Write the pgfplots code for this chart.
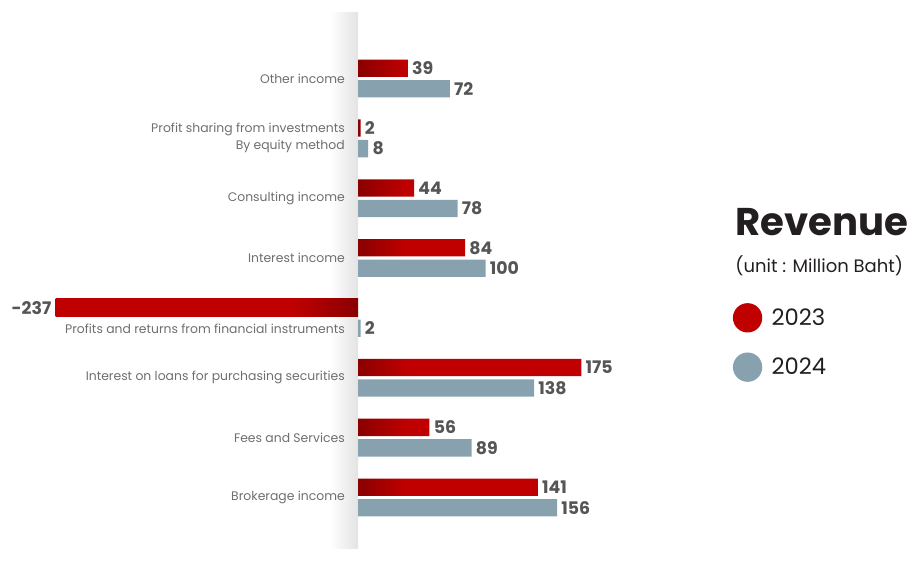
\documentclass[border=0pt]{standalone}
\usepackage{pgfplots}
\pgfplotsset{compat=1.18}
\usepackage{fontspec}
\setmainfont{Poppins}
\definecolor{rmain}{HTML}{C00000}
\definecolor{rdark}{HTML}{8A0000}
\definecolor{bgray}{HTML}{87A2AE}
\definecolor{valc}{HTML}{555555}
\definecolor{labc}{HTML}{6E6E6E}
\definecolor{titc}{HTML}{231F20}
\pgfdeclarehorizontalshading{redpos}{100bp}{color(0bp)=(rdark); color(25bp)=(rdark); color(36bp)=(rmain); color(100bp)=(rmain)}
\pgfdeclarehorizontalshading{redneg}{100bp}{color(0bp)=(rmain); color(64bp)=(rmain); color(75bp)=(rdark); color(100bp)=(rdark)}
\begin{document}
\begin{tikzpicture}
\useasboundingbox (0,0) rectangle (681.75pt,422.25pt);
\begin{axis}[at={(0,0)}, anchor=south west, scale only axis,
  width=681.75pt, height=422.25pt,
  xmin=-280.6, xmax=431.8, ymin=-1.094, ymax=8.311,
  hide axis, clip=false,
  /pgf/number format/assume math mode=true,
  bar width=13pt,
  legend style={draw=none, fill=none, at={(0.806,0.462)}, anchor=north west,
    font=\fontsize{17}{20}\selectfont\color{titc}, row sep=15pt, inner sep=0pt,
    /tikz/every even column/.append style={column sep=0pt}},
  legend cell align=left,
  legend image code/.code={\fill[#1,draw=none] (11pt,0pt) circle (11pt);},
  nodes near coords style={font=\fontsize{13}{15}\selectfont\bfseries, color=valc, inner sep=3pt},
]
% shadow at the zero line
\fill[left color=white, right color=black!11, draw=none] (axis cs:-22,-0.85) rectangle (axis cs:0,8.1);

\addplot[forget plot, xbar, bar shift=7.7pt, draw=none, shade, shading=redpos,
  point meta=x, nodes near coords, nodes near coords style={anchor=west, yshift=7.7pt}]
  coordinates {(141,0) (56,1) (175,2) (84,4) (44,5) (2,6) (39,7)};
\addplot[forget plot, xbar, bar shift=7.7pt, draw=none, shade, shading=redneg,
  point meta=x, nodes near coords, nodes near coords style={anchor=east, yshift=7.7pt}]
  coordinates {(-237,3)};
\addplot[forget plot, xbar, bar shift=-7.7pt, draw=none, fill=bgray,
  point meta=x, nodes near coords, nodes near coords style={anchor=west, yshift=-7.7pt}]
  coordinates {(156,0) (89,1) (138,2) (2,3) (100,4) (78,5) (8,6) (72,7)};

\addlegendimage{fill=rmain}
\addlegendentry{\hspace{5pt}2023}
\addlegendimage{fill=bgray}
\addlegendentry{\hspace{5pt}2024}

\begin{scope}[every node/.style={anchor=east, font=\fontsize{9.3}{12.75}\selectfont, text=labc, align=right, inner sep=0pt}]
\node at (axis cs:-10.2,7) {Other income};
\node at (axis cs:-10.2,6) {Profit sharing from investments\\By equity method};
\node at (axis cs:-10.2,5) {Consulting income};
\node at (axis cs:-10.2,4) {Interest income};
\node at (axis cs:-10.2,2.815) {Profits and returns from financial instruments};
\node at (axis cs:-10.2,2) {Interest on loans for purchasing securities};
\node at (axis cs:-10.2,1) {Fees and Services};
\node at (axis cs:-10.2,0) {Brokerage income};
\end{scope}

\node[anchor=west, font=\fontsize{29}{34}\selectfont\bfseries, text=titc, inner sep=0pt] at (axis cs:295.5,4.60) {Revenue};
\node[anchor=west, font=\fontsize{13.5}{16}\selectfont, text=titc, inner sep=0pt] at (axis cs:295.5,3.867) {(unit : Million Baht)};
\end{axis}
\end{tikzpicture}
\end{document}
